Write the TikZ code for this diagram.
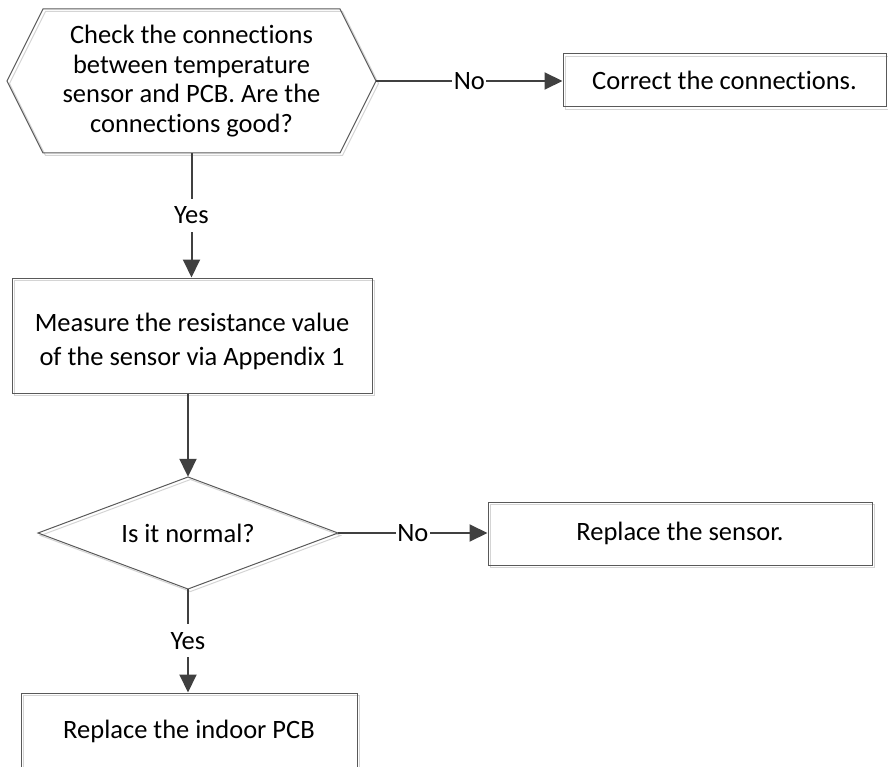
\documentclass[tikz,border=0pt]{standalone}
\usepackage{fontspec}
\setmainfont[Ligatures=NoCommon]{Carlito}
\usetikzlibrary{arrows.meta,shadows}
\definecolor{shapec}{HTML}{595959}
\definecolor{connc}{HTML}{404040}
\definecolor{shadc}{HTML}{D4D4D4}
\begin{document}
\begin{tikzpicture}[x=1pt,y=-1pt,
  mainfont/.style={font=\fontsize{26.5}{34}\selectfont},
  hexfont/.style={font=\fontsize{26.5}{29.7}\selectfont},
  myshadow/.style={drop shadow={shadow xshift=2.5pt,shadow yshift=-2.5pt,fill=none,draw=shadc,line width=1pt,opacity=1}},
  outline/.style={draw=shapec,line width=1pt,myshadow},
  boxnode/.style={outline,rectangle,inner sep=0pt,mainfont,align=center},
  ghost/.style={rectangle,inner sep=0pt},
  conn/.style={draw=connc,line width=2pt,-{Triangle[length=18pt,width=17pt]}},
  lbl/.style={fill=white,inner xsep=1.5pt,inner ysep=8pt,mainfont,text=black}]
\useasboundingbox (0,0) rectangle (888,767);
\clip (0,0) rectangle (888,767);
% decision 1 (hexagon)
\draw[outline] (7,81) -- (43,9) -- (340,9) -- (376,81) -- (340,153) -- (43,153) -- cycle;
\node[ghost,hexfont,align=center,minimum width=369pt,minimum height=144pt] (hex) at (191.5,81)
  {Check the connections\\between temperature\\sensor and PCB. Are the\\connections good?};
% box: correct the connections
\node[boxnode,minimum width=323pt,minimum height=53pt] (cc) at (724.5,80.5) {Correct the connections.};
% box: measure
\node[boxnode,minimum width=360pt,minimum height=115pt] (m) at (192,335.5) {};
\node[ghost,mainfont,align=center] (mt) at (192,341) {Measure the resistance value\\of the sensor via Appendix 1};
% decision 2 (diamond)
\draw[outline] (38,533) -- (188,477) -- (338,533) -- (188,589) -- cycle;
\node[ghost,mainfont,minimum width=300pt,minimum height=112pt] (dia) at (188,533) {Is it normal?};
% box: replace sensor
\node[boxnode,minimum width=384pt,minimum height=63pt] (rs) at (680,533.5) {Replace the sensor.};
% box: replace PCB
\node[boxnode,minimum width=336pt,minimum height=77pt] (ri) at (189,731.5) {Replace the indoor PCB};
% connectors
\draw[conn] (hex.east) -- node[lbl] {No} (hex.east -| cc.west);
\draw[conn] (hex.south) -- node[lbl] {Yes} (hex.south |- m.north);
\draw[conn] (dia.north |- m.south) -- (dia.north);
\draw[conn] (dia.east) -- node[lbl] {No} (dia.east -| rs.west);
\draw[conn] (dia.south) -- node[lbl] {Yes} (dia.south |- ri.north);
\end{tikzpicture}
\end{document}
